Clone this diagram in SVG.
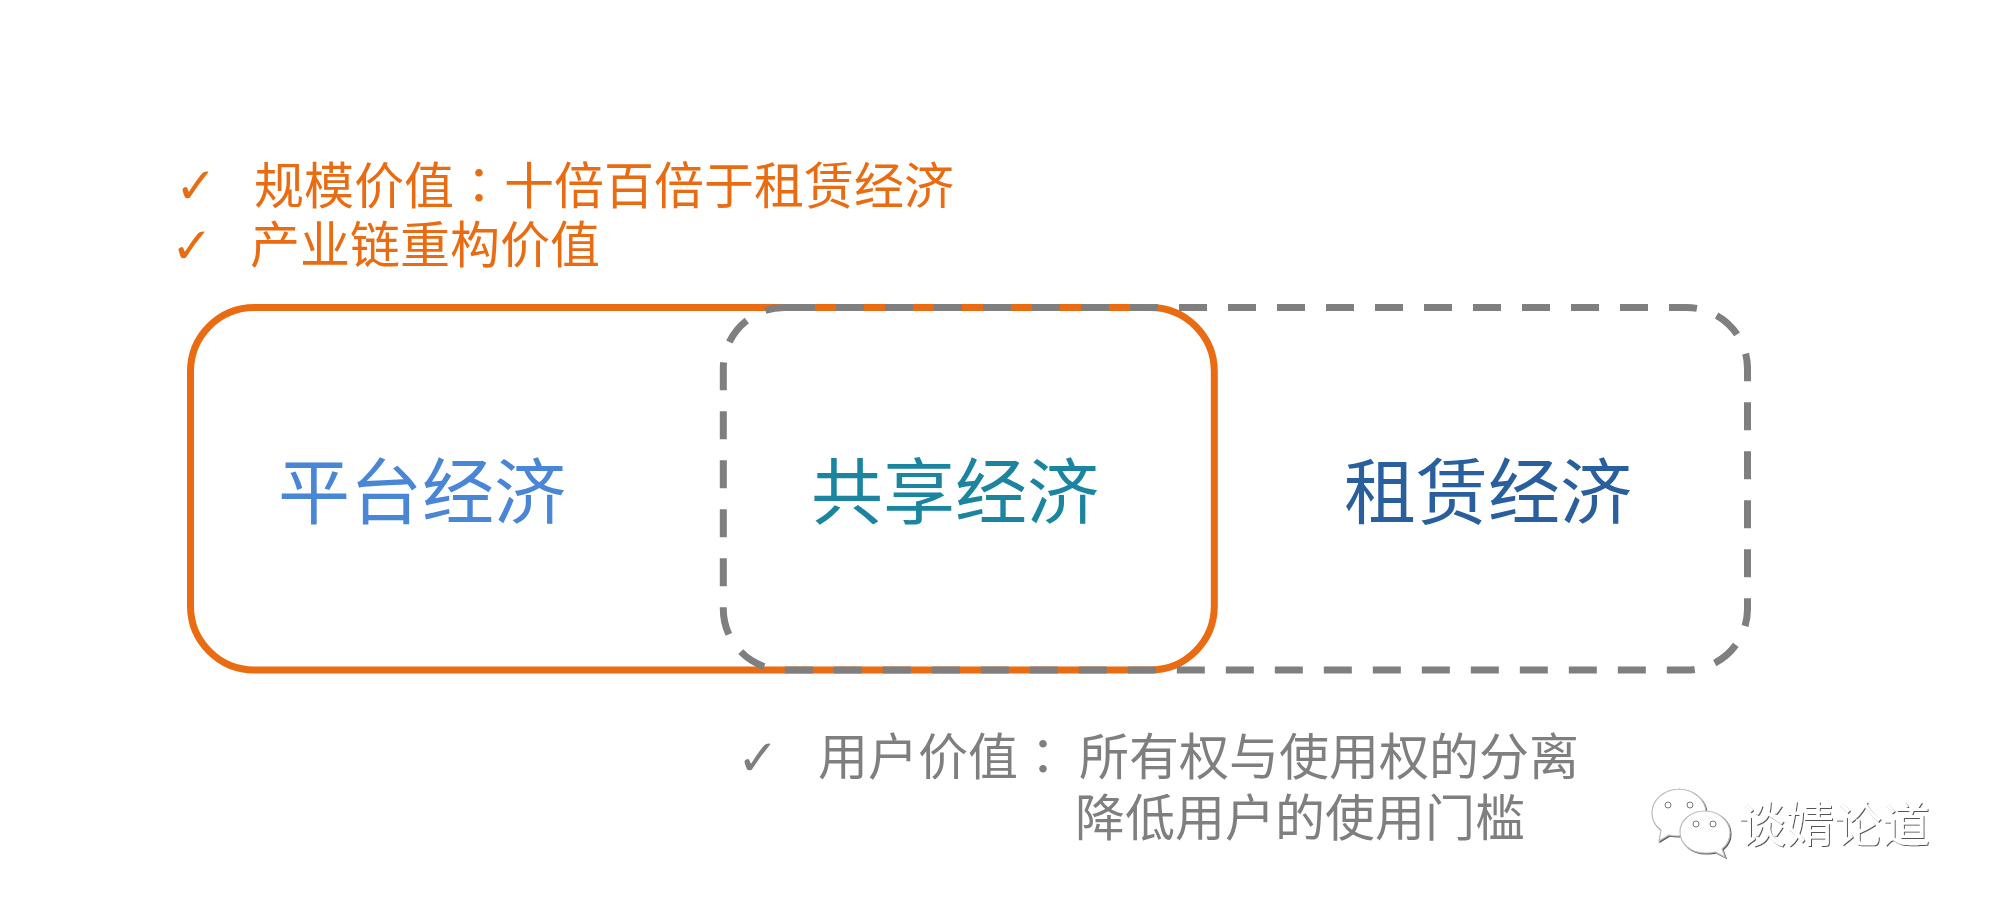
<svg xmlns="http://www.w3.org/2000/svg" width="1998" height="914" viewBox="0 0 1998 914">
<style>
text{font-family:"Noto Sans CJK SC","Noto Sans",sans-serif;font-weight:400}
.t{font-size:50px}
.big{font-size:72px}
.o{fill:#E96C12}
.g{fill:#7F7F7F}
.c{font-family:"DejaVu Sans",sans-serif;font-size:50px;font-weight:400}
.col{font-family:"Noto Sans CJK TC",sans-serif}
.wm{fill:#fff}
.bub{fill:#fff;stroke:#bbb;stroke-width:1.200}
.eye{fill:#fff;stroke:#777}
</style>
<defs>
<filter id="emboss" x="-10%" y="-10%" width="120%" height="120%"><feDropShadow dx="1" dy="1" stdDeviation=".5" flood-color="#555"/></filter>
</defs>
<rect width="1998" height="914" fill="#fff"/>
<g id="connectors">
<rect id="platform-box" x="190.500" y="307.500" width="1023.800" height="362.500" rx="64" fill="none" stroke="#E96C12" stroke-width="7"/>
<path id="rental-box" d="M787 307.500H1686.500A61 61 0 0 1 1747.500 368.500V609A61 61 0 0 1 1686.500 670H784.300A61 61 0 0 1 723.300 609V368.500A61 61 0 0 1 784.300 307.500Z" fill="none" stroke="#7F7F7F" stroke-width="7" stroke-dasharray="28 21"/>
</g>
<g id="value-top">
<text class="c o" x="175" y="203">✓</text>
<text class="t o" x="254" y="204">规模价值<tspan class="col">：</tspan>十倍百倍于租赁经济</text>
<text class="c o" x="171" y="263">✓</text>
<text class="t o" x="250" y="263">产业链重构价值</text>
</g>
<g id="node-platform"><text class="big" x="278" y="518" fill="#4A86D6">平台经济</text></g>
<g id="node-sharing"><text class="big" x="811" y="518" fill="#1B85A0">共享经济</text></g>
<g id="node-rental"><text class="big" x="1344" y="518" fill="#2A5F9E">租赁经济</text></g>
<g id="value-user">
<text class="c g" x="737" y="775">✓</text>
<text class="t g" x="818" y="775">用户价值<tspan class="col">：</tspan><tspan x="1079">所有权与使用权的分离</tspan></text>
<text class="t g" x="1075" y="836">降低用户的使用门槛</text>
</g>
<g id="watermark" filter="url(#emboss)">
<path class="bub" d="M1678 789c16 0 28 11 28 24 0 13-12 23-28 23-3 0-6 0-9-1l-10 6 2-11c-6-4-9-10-9-17 0-13 12-24 28-24z"/>
<path class="bub" d="M1705 811c14 0 25 10 25 22 0 7-3 12-8 16l3 8-10-5c-3 1-6 1-10 1-14 0-25-9-25-21s11-21 25-21z"/>
<circle class="eye" cx="1668" cy="805" r="3"/>
<circle class="eye" cx="1690" cy="805" r="3"/>
<circle class="eye" cx="1696" cy="824" r="3"/>
<circle class="eye" cx="1713" cy="824" r="3"/>
<text class="wm" x="1738" y="842" style="font-size:48px">谈婧论道</text>
</g>
</svg>
